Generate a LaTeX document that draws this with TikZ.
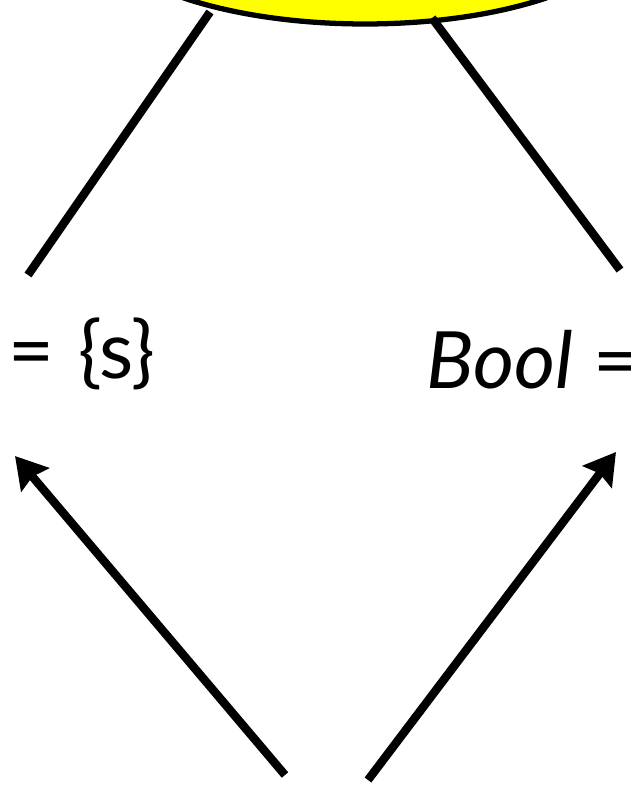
\documentclass[tikz,border=0pt]{standalone}
\usepackage{fontspec}
\setmainfont{Lato}
\usetikzlibrary{positioning,arrows.meta,shapes.geometric}
\definecolor{sunyellow}{RGB}{255,255,0}

\begin{document}
\begin{tikzpicture}[
  x=0.02cm, y=-0.02cm,
  font=\fontsize{45}{54}\selectfont,
  sun/.style={ellipse, draw=black, line width=3pt, fill=sunyellow,
              minimum width=10.96cm, minimum height=4.16cm},
  term/.style={inner sep=0pt, anchor=base},
  edge/.style={line width=4.8pt, black},
  arr/.style={line width=4.8pt, black,
              -{Stealth[length=0.62cm,width=0.72cm,inset=0.08cm]}}
]
\useasboundingbox (0,0) rectangle (631,785);

\node[sun] (S) at (365,-80) {};

\node[term, anchor=base east] (L) at (156,378) {=\hspace{0.3em}\{s\}};
\node[term, anchor=base west] (R) at (426,388) {\textit{Bool} =};

\coordinate (Ltop) at (210,12);
\coordinate (Rtop) at (432,18);
\coordinate (Lend) at (28,275);
\coordinate (Rend) at (620,270);
\coordinate (Ltail) at (285,775);
\coordinate (Rtail) at (368,780);
\coordinate (Ltip) at (15,456);
\coordinate (Rtip) at (616,452);

\draw[edge] (Ltop) -- (Lend);
\draw[edge] (Rtop) -- (Rend);

\draw[arr] (Ltail) -- (Ltip);
\draw[arr] (Rtail) -- (Rtip);

\end{tikzpicture}
\end{document}
